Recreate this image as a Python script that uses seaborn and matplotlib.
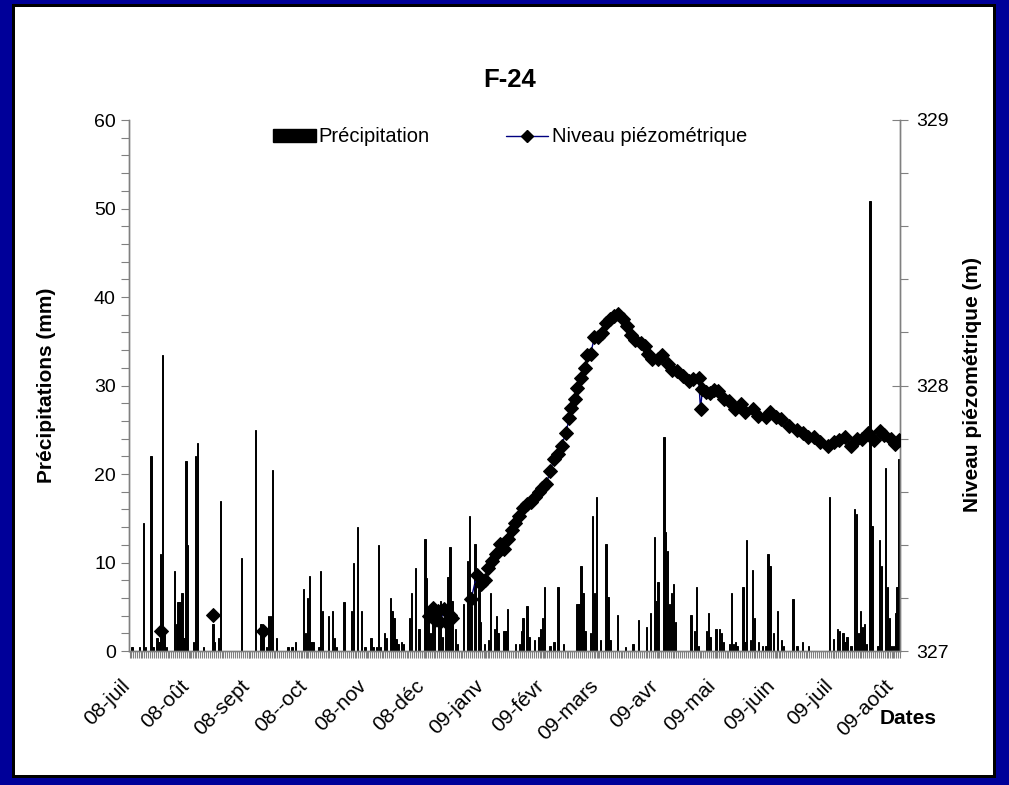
import numpy as np
import pandas as pd
import seaborn as sns
import matplotlib.pyplot as plt
from matplotlib.patches import Rectangle, Patch
from matplotlib.lines import Line2D
from matplotlib.ticker import MultipleLocator, FixedLocator
from matplotlib.transforms import ScaledTranslation

# Daily series, 2008-07-01 -> 2009-08-04
dates = pd.date_range("2008-07-01", "2009-08-04", freq="D")

# Rainy days (index from 2008-07-01) and rain in mm, all other days are 0
rain_day = [1, 5, 7, 8, 11, 12, 14, 15, 16, 17, 18, 19, 23, 24, 25, 26, 27, 28, 29, 30,
            33, 34, 35, 38, 43, 44, 46, 47, 58, 65, 68, 69, 71, 72, 73, 74, 76, 82, 84, 86,
            90, 91, 92, 93, 94, 95, 98, 99, 100, 103, 105, 106, 107, 111, 115, 116, 118, 120,
            122, 125, 126, 128, 129, 130, 132, 133, 135, 136, 137, 138, 139, 141, 142, 145,
            146, 148, 150, 153, 154, 155, 156, 157, 158, 160, 161, 162, 164, 165, 166, 167,
            169, 170, 173, 175, 176, 177, 179, 181, 182, 184, 186, 187, 189, 190, 191, 194,
            195, 196, 200, 202, 203, 204, 206, 207, 210, 212, 213, 214, 215, 218, 220, 222,
            225, 232, 233, 234, 235, 236, 239, 240, 241, 242, 244, 247, 248, 249, 253, 257,
            261, 264, 268, 270, 272, 273, 274, 277, 278, 279, 280, 281, 282, 283, 291, 293,
            294, 295, 299, 300, 301, 304, 306, 307, 308, 311, 312, 313, 314, 315, 318, 319,
            320, 322, 323, 324, 326, 328, 330, 331, 332, 334, 336, 338, 339, 344, 346, 349,
            352, 363, 365, 367, 368, 370, 371, 372, 374, 376, 377, 378, 379, 380, 381, 382,
            384, 385, 388, 389, 390, 392, 393, 394, 395, 396, 397, 398, 399]
rain_mm = [0.5, 0.5, 14.5, 0.5, 22, 0.5, 1.5, 1, 11, 33.5, 2, 0.5, 9, 3, 5.5, 5.5, 6.5, 1.5, 21.5, 12,
           1, 22, 23.5, 0.5, 3, 1, 1.5, 17, 10.5, 25, 3, 2.5, 0.5, 4, 4, 20.5, 1.5, 0.5, 0.5, 1,
           7, 2, 6, 8.5, 1, 1, 0.5, 9, 4.5, 4, 4.5, 1.5, 0.5, 5.5, 4.5, 10, 14, 4.5,
           0.5, 1.5, 0.5, 0.5, 12, 0.5, 2, 1.5, 6, 4.5, 3.7, 1.4, 0.8, 1, 0.8, 3.7,
           6.6, 9.4, 2.5, 12.7, 8.2, 4.1, 2, 5.3, 2.9, 4.1, 5.7, 1.6, 3.3, 8.4, 11.7, 5.7,
           2.5, 0.8, 5.3, 10.2, 15.2, 5.1, 12.1, 7, 3.3, 0.8, 1.2, 6.6, 2.5, 3.9, 2, 2.3,
           2.3, 4.7, 0.8, 0.8, 2.3, 3.7, 5.1, 1.6, 1.2, 1.6, 2.5, 3.7, 7.2, 0.6, 1, 7.2,
           0.8, 5.3, 5.3, 9.6, 6.6, 2.3, 2, 15.2, 6.6, 17.4, 1.2, 12.1, 6.1, 1.2, 4.1, 0.4,
           0.8, 3.5, 2.7, 4.3, 12.9, 5.7, 7.8, 24.2, 13.5, 11.3, 5.3, 6.6, 7.6, 3.3, 4.1, 2.3,
           7.2, 0.6, 2.3, 4.3, 1.6, 2.5, 2.5, 2, 1, 0.8, 6.6, 0.8, 1, 0.6, 7.2, 1,
           12.5, 1.2, 9.2, 3.7, 1, 0.6, 0.6, 11, 9.6, 2, 4.5, 1.2, 0.6, 5.9, 0.6, 1,
           0.6, 17.4, 1.4, 2.5, 2.3, 2, 1, 1.6, 0.6, 16, 15.5, 2, 4.5, 2.7, 3.1, 0.8,
           50.8, 14.1, 0.6, 12.5, 9.6, 20.7, 7.2, 3.7, 0.6, 0.6, 4.3, 7.2, 21.7]

# Piezometric level (m), day index and value
level_day = [16, 43, 69,
             155, 157, 158, 160, 161, 163, 164, 166, 167,
             177, 180, 182, 184, 186, 188, 190, 192, 194, 196, 198, 200, 202, 204, 206, 208,
             210, 212, 214, 216, 218, 220, 222, 224, 226, 228, 229, 231, 232, 234, 236, 237,
             239, 241, 243, 245, 247, 249, 251, 253, 256, 258, 260, 262, 265, 267, 269, 271,
             274, 276, 279, 281, 284, 287, 290, 292, 295, 296, 297, 299, 301, 303, 305, 308,
             311, 314, 317, 319, 323, 326, 330, 332, 335, 338, 342, 346, 349, 352, 355, 358,
             362, 365, 368, 371, 374, 377, 380, 383, 386, 389, 391, 395, 397, 399]
level_m = [327.075, 327.137, 327.075,
           327.130, 327.163, 327.117, 327.150, 327.110, 327.157, 327.110, 327.137, 327.123,
           327.197, 327.287, 327.253, 327.267, 327.313, 327.340, 327.367, 327.403, 327.383,
           327.423, 327.457, 327.483, 327.507, 327.537, 327.553, 327.560,
           327.580, 327.600, 327.613, 327.630, 327.677, 327.723, 327.743, 327.773, 327.820,
           327.877, 327.917, 327.950, 327.990, 328.030, 328.067, 328.113,
           328.120, 328.183, 328.183, 328.197, 328.237, 328.250, 328.263, 328.270, 328.250,
           328.223, 328.190, 328.173, 328.160, 328.147, 328.120, 328.100,
           328.100, 328.113, 328.080, 328.060, 328.053, 328.037, 328.017, 328.023, 328.030,
           327.910, 327.987, 327.977, 327.970, 327.983, 327.980, 327.950,
           327.943, 327.910, 327.930, 327.900, 327.910, 327.887, 327.880, 327.900, 327.880,
           327.873, 327.847, 327.833, 327.820, 327.807, 327.807, 327.787,
           327.773, 327.787, 327.793, 327.807, 327.773, 327.800, 327.800, 327.820, 327.793,
           327.827, 327.813, 327.800, 327.780, 327.793]

month_labels = ["08-juil", "08-oût", "08-sept", "08--oct", "08-nov", "08-déc", "09-janv",
                "09-févr", "09-mars", "09-avr", "09-mai", "09-juin", "09-juil", "09-août"]

# tables
rain = pd.DataFrame({"day": np.arange(len(dates)), "mm": 0.0})
rain.loc[rain_day, "mm"] = rain_mm

lvl = pd.DataFrame({"day": level_day, "level": level_m})
lvl["seg"] = (lvl["day"].diff() > 5).cumsum()  # Excel leaves gaps where data is missing

sns.set_theme(style="white")
plt.rcParams["font.family"] = ["Liberation Sans", "DejaVu Sans"]
plt.rcParams["text.color"] = "black"
plt.rcParams["xtick.color"] = "black"
plt.rcParams["ytick.color"] = "black"
plt.rcParams["axes.labelcolor"] = "black"

BLUE = "#000099"
GREY = "#808080"

fig = plt.figure(figsize=(10.09, 7.85), dpi=100, facecolor=BLUE)
fig.patches.append(Rectangle((12 / 1009, 7 / 785), 984 / 1009, 774 / 785, linewidth=0,
                             transform=fig.transFigure, facecolor="black", zorder=-2))
fig.patches.append(Rectangle((15 / 1009, 10 / 785), 978 / 1009, 768 / 785, linewidth=0,
                             transform=fig.transFigure, facecolor="white", zorder=-1))

ax = fig.add_axes([129 / 1009, 1 - 651 / 785, 771 / 1009, 531 / 785])
ax.set_facecolor("none")

sns.barplot(data=rain, x="day", y="mm", native_scale=True, width=0.7,
            color="black", saturation=1, errorbar=None, edgecolor="black",
            linewidth=0.7, ax=ax, zorder=2)

ax2 = ax.twinx()
sns.lineplot(data=lvl, x="day", y="level", units="seg", estimator=None, sort=False,
             color="#000080", linewidth=1, marker="D", markersize=7,
             markerfacecolor="black", markeredgecolor="black", ax=ax2, zorder=3)

ax.set_xlim(-0.5, len(dates) - 0.5)
ax.set_ylim(0, 60)
ax2.set_ylim(327, 329)

ax.yaxis.set_major_locator(MultipleLocator(10))
ax.yaxis.set_minor_locator(MultipleLocator(2))
ax.tick_params(axis="y", which="both", direction="out", length=6, width=0.8,
               color=GREY, labelsize=14, left=True)

ax2.yaxis.set_major_locator(MultipleLocator(1))
ax2.yaxis.set_minor_locator(MultipleLocator(0.2))
ax2.tick_params(axis="y", which="major", direction="inout", length=12, width=0.8,
                color=GREY, labelsize=14, right=True, pad=6)
ax2.tick_params(axis="y", which="minor", direction="out", length=6, width=0.8,
                color=GREY, right=True)

for a in (ax, ax2):
    a.spines["top"].set_visible(False)
    for s in ("left", "right", "bottom"):
        a.spines[s].set_color(GREY)
        a.spines[s].set_linewidth(1)
ax.grid(False)
ax2.grid(False)

ax.set_xlabel("")
ax.set_ylabel("")
ax2.set_xlabel("")
ax2.set_ylabel("")

# x ticks: every day, labels at month starts
month_pos = [i for i, d in enumerate(dates) if d.day == 1]
ax.xaxis.set_major_locator(FixedLocator(month_pos))
ax.xaxis.set_minor_locator(FixedLocator(np.arange(len(dates)) + 0.5))
ax.tick_params(axis="x", which="both", direction="out", length=5, width=0.8,
               color=GREY, pad=13, bottom=True)
ax.set_xticklabels(month_labels, rotation=45, ha="right", va="top",
                   rotation_mode="anchor", fontsize=15)
# Excel puts the end of each rotated label a little left of its tick
shift = ScaledTranslation(-10 / 100, 0, fig.dpi_scale_trans)
for lab in ax.get_xticklabels():
    lab.set_transform(lab.get_transform() + shift)

fig.text(47 / 1009, 1 - 385 / 785, "Précipitations (mm)", rotation=90, ha="center",
         va="center", fontsize=15, fontweight="bold")
fig.text(973 / 1009, 1 - 385 / 785, "Niveau piézométrique (m)", rotation=90, ha="center",
         va="center", fontsize=15, fontweight="bold")
fig.text(908 / 1009, 1 - 718 / 785, "Dates", ha="center", va="center",
         fontsize=15, fontweight="bold")
fig.text(510 / 1009, 1 - 80 / 785, "F-24", ha="center", va="center",
         fontsize=18.5, fontweight="bold")

handles = [Patch(facecolor="black", edgecolor="black"),
           Line2D([], [], color="#000080", linewidth=1, marker="D", markersize=6,
                  markerfacecolor="black", markeredgecolor="black")]
fig.legend(handles, ["Précipitation", "Niveau piézométrique"], loc="center",
           bbox_to_anchor=(510 / 1009, 1 - 137 / 785), ncol=2, frameon=False,
           fontsize=14.5, handlelength=2.1, handleheight=0.6, handletextpad=0.15,
           columnspacing=3.8)

fig.savefig("out.png", dpi=100, facecolor=BLUE)
